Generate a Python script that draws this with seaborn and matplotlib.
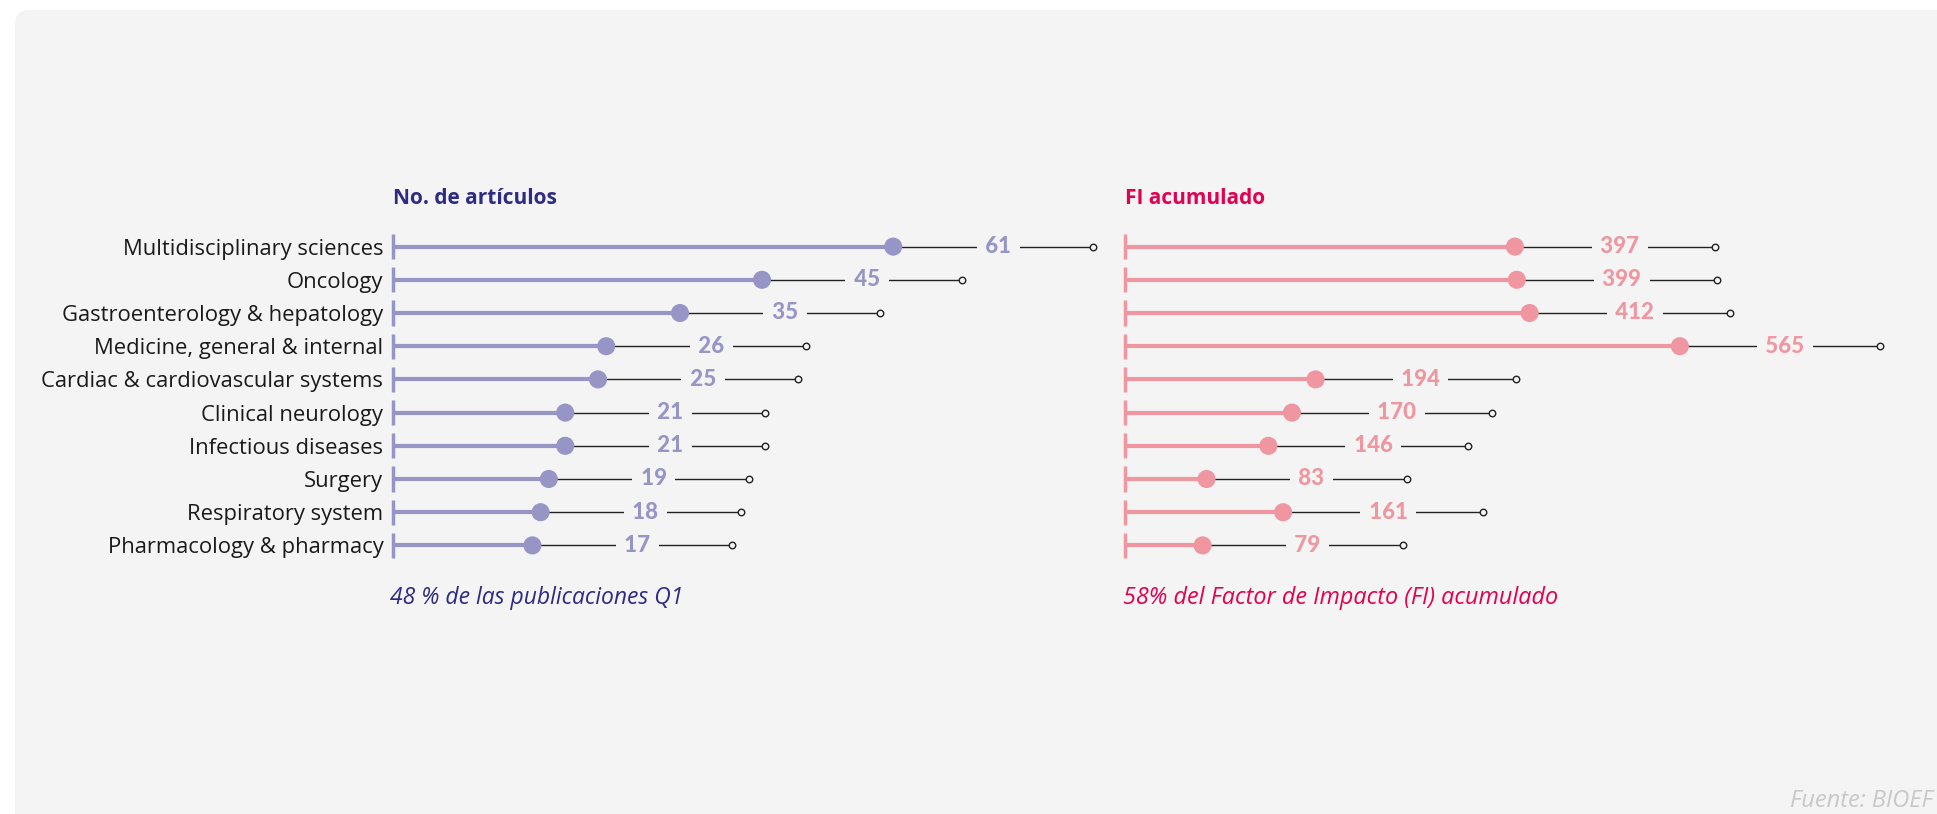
import numpy as np
import pandas as pd
import matplotlib.pyplot as plt
import seaborn as sns
from matplotlib.patches import FancyBboxPatch
from matplotlib.transforms import IdentityTransform

# --- DATA ---
areas = ["Multidisciplinary sciences", "Oncology", "Gastroenterology & hepatology",
         "Medicine, general & internal", "Cardiac & cardiovascular systems",
         "Clinical neurology", "Infectious diseases", "Surgery",
         "Respiratory system", "Pharmacology & pharmacy"]
articulos = [61, 45, 35, 26, 25, 21, 21, 19, 18, 17]
fi_acumulado = [397, 399, 412, 565, 194, 170, 146, 83, 161, 79]

title_left = "No. de artículos"
title_right = "FI acumulado"
note_left = "48 % de las publicaciones Q1"
note_right = "58% del Factor de Impacto (FI) acumulado"
source = "Fuente: BIOEF"

# --- STYLE ---
W, H, DPI = 1937, 814, 100
bg = "#f4f4f4"
purple, navy = "#9794c6", "#2e2a85"
pink, crimson = "#ef96a0", "#e5004f"
ink = "#222222"

sns.set_theme(style="white")
plt.rcParams['font.family'] = ['Open Sans', 'DejaVu Sans']

df = pd.DataFrame({"area": areas, "articulos": articulos, "fi": fi_acumulado})
df["pos"] = np.arange(len(df))

fig = plt.figure(figsize=(W / DPI, H / DPI), dpi=DPI, facecolor="white")
fig.patches.append(FancyBboxPatch((15, -30), W, H - 10 + 30,
                                  boxstyle="round,pad=0,rounding_size=14",
                                  transform=IdentityTransform(),
                                  fc=bg, ec="none", zorder=-10))

# panel layout in pixels: left edge, width, pixels per data unit
top_px, bot_px = 230, 562


def lollipop(x0, width, ppu, col, color):
    ax = fig.add_axes([x0 / W, (H - bot_px) / H, width / W, (bot_px - top_px) / H])
    ax.set_facecolor("none")
    vals = df[col].to_numpy()
    pos = df["pos"].to_numpy()
    unit = 1.0 / ppu

    # black connector + open end circle
    ax.hlines(pos, vals, vals + 200 * unit, color=ink, lw=1, zorder=1, clip_on=False)
    ax.scatter(vals + 200 * unit, pos, s=22, facecolor=bg, edgecolor=ink,
               linewidth=1, zorder=2, clip_on=False)
    # stem and baseline tick
    ax.hlines(pos, 0, vals, color=color, lw=3, zorder=2, clip_on=False)
    ax.vlines(np.zeros(len(pos)), pos - 0.38, pos + 0.38, color=color, lw=2.5,
              zorder=2, clip_on=False)
    sns.scatterplot(data=df, x=col, y="pos", color=color, s=170, edgecolor="none",
                    ax=ax, zorder=3, legend=False, clip_on=False)
    for p, v in zip(pos, vals):
        ax.text(v + 105 * unit, p, f" {v} ", ha="center", va="center",
                fontsize=16, fontweight="black", family=["Lato", "DejaVu Sans"],
                color=color, zorder=4,
                bbox=dict(boxstyle="square,pad=0.15", fc=bg, ec="none"))

    ax.set_xlim(0, width * unit)
    ax.set_ylim(len(df) - 0.5, -0.5)
    ax.set_xticks([])
    ax.set_xlabel("")
    ax.set_ylabel("")
    sns.despine(ax=ax, left=True, bottom=True)
    return ax


ax1 = lollipop(393, 700, 8.2, "articulos", purple)
ax1.set_yticks(df["pos"], labels=df["area"])
ax1.tick_params(axis="y", length=0, pad=7, labelsize=15.8, labelcolor="#1a1a1a")

ax2 = lollipop(1125, 800, 0.982, "fi", pink)
ax2.set_yticks([])

# --- TITLES & NOTES ---
fig.text(393 / W, 1 - 198 / H, title_left, fontsize=15, fontweight="bold",
         color=navy, ha="left", va="center")
fig.text(1125 / W, 1 - 198 / H, title_right, fontsize=15, fontweight="bold",
         color=crimson, ha="left", va="center")
fig.text(390 / W, 1 - 598 / H, note_left, fontsize=16.5, style="italic",
         color=navy, ha="left", va="center")
fig.text(1123 / W, 1 - 598 / H, note_right, fontsize=16.8, style="italic",
         color=crimson, ha="left", va="center")
fig.text(1933 / W, 1 - 801 / H, source, fontsize=17, style="italic",
         color="#c8c8c8", ha="right", va="center")

fig.savefig("out.png", dpi=DPI, facecolor="white")
